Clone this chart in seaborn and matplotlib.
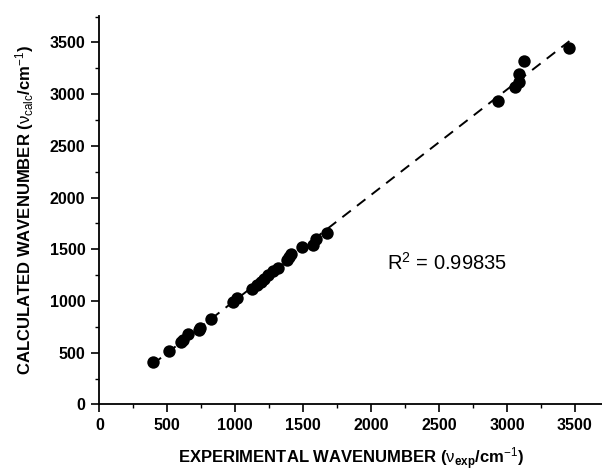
import numpy as np
import pandas as pd
import matplotlib
matplotlib.use("Agg")
import matplotlib.pyplot as plt
from matplotlib.ticker import MultipleLocator
import seaborn as sns

# experimental vs calculated wavenumbers (cm^-1)
nu_exp = [392, 514, 600, 619, 656, 732, 742, 820, 984, 1011,
          1126, 1158, 1189, 1211, 1243, 1275, 1312, 1378, 1395, 1410,
          1490, 1574, 1593, 1676, 2932, 3059, 3091, 3091, 3128, 3460]
nu_calc = [413, 513, 600, 626, 677, 723, 742, 823, 987, 1032,
           1116, 1158, 1187, 1216, 1252, 1290, 1323, 1394, 1426, 1452,
           1519, 1545, 1600, 1658, 2935, 3071, 3116, 3197, 3316, 3442]
r2_text = "R$^2$ = 0.99835"

sns.set_style("ticks", {'axes.edgecolor': 'black', 'text.color': 'black',
                        'axes.labelcolor': 'black', 'xtick.color': 'black',
                        'ytick.color': 'black'})
plt.rcParams['font.family'] = ['Liberation Sans', 'DejaVu Sans']
plt.rcParams['mathtext.fontset'] = 'custom'
plt.rcParams['mathtext.rm'] = 'Liberation Sans'
plt.rcParams['mathtext.it'] = 'Liberation Sans'
plt.rcParams['mathtext.bf'] = 'Liberation Sans:bold'

df = pd.DataFrame({'exp': nu_exp, 'calc': nu_calc})

fig = plt.figure(figsize=(6.02, 4.73), dpi=100)
ax = fig.add_axes([0.165, 0.145, 0.835, 0.821])

# dashed linear fit
sns.regplot(x='exp', y='calc', data=df, ax=ax, scatter=False, ci=None,
            color='black', line_kws={'linestyle': (0, (5.5, 4)), 'linewidth': 1.4})
sns.scatterplot(x='exp', y='calc', data=df, ax=ax, color='black', s=80,
                edgecolor='black', linewidth=0, zorder=3)

ax.set_xlim(0, 3700)
ax.set_ylim(0, 3755)
ax.xaxis.set_major_locator(MultipleLocator(500))
ax.yaxis.set_major_locator(MultipleLocator(500))
ax.xaxis.set_minor_locator(MultipleLocator(250))
ax.yaxis.set_minor_locator(MultipleLocator(250))
ax.tick_params(which='major', direction='out', length=6, width=1.2,
               labelsize=11.5, pad=4)
ax.tick_params(which='minor', direction='out', length=3, width=1.0)
for lab in ax.get_xticklabels() + ax.get_yticklabels():
    lab.set_fontweight('bold')

sns.despine(ax=ax)
for sp in ['left', 'bottom']:
    ax.spines[sp].set_linewidth(1.3)

ax.set_xlabel(r"EXPERIMENTAL WAVENUMBER ($\nu_{\mathbf{exp}}$/cm$^{-1}$)",
              fontsize=12, fontweight='bold', labelpad=9)
ax.set_ylabel(r"CALCULATED WAVENUMBER ($\nu_{\mathrm{calc}}$/cm$^{-1}$)",
              fontsize=12, fontweight='bold', labelpad=10)

ax.text(2120, 1300, r2_text, fontsize=14.5, color='black')

fig.savefig("out.png", dpi=100)
